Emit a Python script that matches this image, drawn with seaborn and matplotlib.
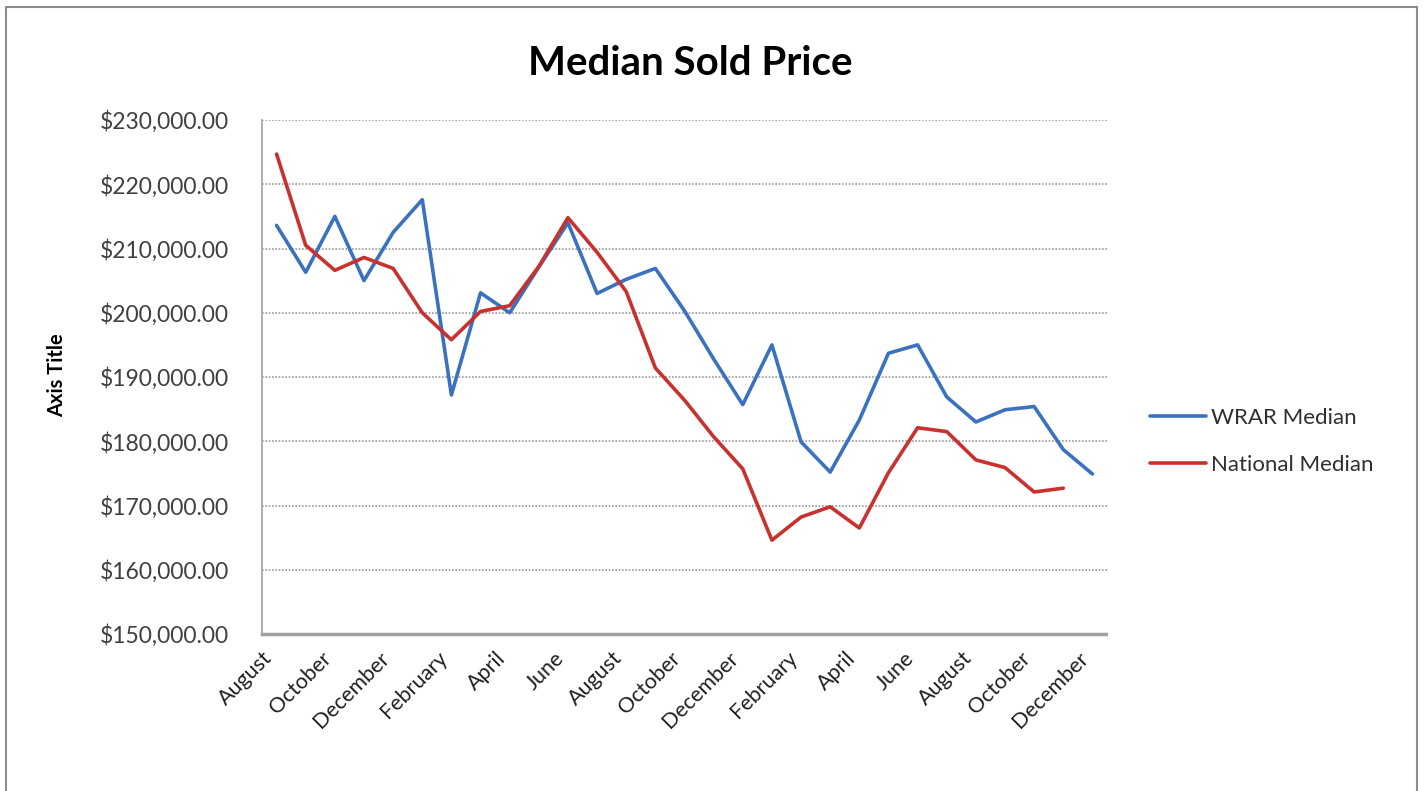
import pandas as pd
import matplotlib.pyplot as plt
import seaborn as sns
from matplotlib.patches import Rectangle

# Months from August (year 1) to December (year 3)
months = ['August', 'September', 'October', 'November', 'December',
          'January', 'February', 'March', 'April', 'May', 'June', 'July',
          'August', 'September', 'October', 'November', 'December',
          'January', 'February', 'March', 'April', 'May', 'June', 'July',
          'August', 'September', 'October', 'November', 'December']

# Values
wrar_median = [213600, 206300, 215000, 205000, 212500, 217600, 187200, 203100,
               200000, 207100, 214000, 203000, 205200, 206900, 200300, 192800,
               185700, 195000, 179900, 175200, 183300, 193700, 195000, 186900,
               183000, 184900, 185400, 178700, 174900]
national_median = [224700, 210500, 206600, 208600, 206900, 200000, 195800, 200200,
                   201100, 207200, 214800, 209400, 203300, 191400, 186400, 180700,
                   175700, 164600, 168200, 169800, 166500, 175100, 182100, 181500,
                   177100, 175900, 172100, 172700]

series_names = ['WRAR Median', 'National Median']
colors = ['#3a72c0', '#c8312e']

# Long-form table for seaborn
df = pd.concat([
    pd.DataFrame({'idx': range(len(wrar_median)), 'price': wrar_median, 'series': series_names[0]}),
    pd.DataFrame({'idx': range(len(national_median)), 'price': national_median, 'series': series_names[1]}),
], ignore_index=True)

sns.set_style('white')
plt.rcParams['font.family'] = ['Lato', 'DejaVu Sans']

fig = plt.figure(figsize=(14.24, 7.91), dpi=100)
ax = fig.add_axes([262 / 1424, 1 - 634 / 791, (1107 - 262) / 1424, (634 - 120) / 791])

sns.lineplot(data=df, x='idx', y='price', hue='series', palette=colors,
             linewidth=2.6, ax=ax)

ax.set_xlim(-0.5, len(months) - 0.5)
ax.set_ylim(150000, 230000)
ax.set_yticks(range(150000, 230001, 10000))
ax.set_yticklabels(['${:,.2f}'.format(v) for v in range(150000, 230001, 10000)],
                   fontsize=16.5, color='#404040')
tick_pos = list(range(0, len(months), 2))
ax.set_xticks(tick_pos)
ax.set_xticklabels([months[i] for i in tick_pos], rotation=45, ha='right',
                   fontsize=15.5, color='#202020')
ax.tick_params(axis='y', length=0, pad=24)
ax.tick_params(axis='x', length=0, pad=10)
ax.set_xlabel('')
ax.set_ylabel('')

ax.grid(axis='y', color='#9a9a9a', linestyle=(0, (1, 1)), linewidth=1.2)
ax.set_axisbelow(True)
for side in ['top', 'right']:
    ax.spines[side].set_visible(False)
for side in ['left', 'bottom']:
    ax.spines[side].set_color('#a0a0a0')
    ax.spines[side].set_linestyle((0, (1, 1)))
    ax.spines[side].set_linewidth(1.2)
ax.spines['bottom'].set_linewidth(2.5)

leg = ax.legend(loc='center left', bbox_to_anchor=((1130 - 262) / (1107 - 262), 0.375),
                frameon=False, fontsize=16, handlelength=2.5, handletextpad=0.25,
                labelspacing=1.2, labelcolor='#303030')

fig.text(690 / 1424, 1 - 75 / 791, 'Median Sold Price', ha='center', va='baseline',
         fontsize=29, fontweight='bold', color='black')
fig.text(57 / 1424, 1 - 375 / 791, 'Axis Title', rotation=90, ha='center', va='center',
         fontsize=14.5, fontweight='bold', color='black')

# chart area border
fig.patches.append(Rectangle((6 / 1424, -0.01), 1411 / 1424, 1 - 7 / 791 + 0.01,
                             transform=fig.transFigure, fill=False,
                             edgecolor='#8c8c8c', linewidth=1.5))

fig.savefig('out.png', dpi=100)
